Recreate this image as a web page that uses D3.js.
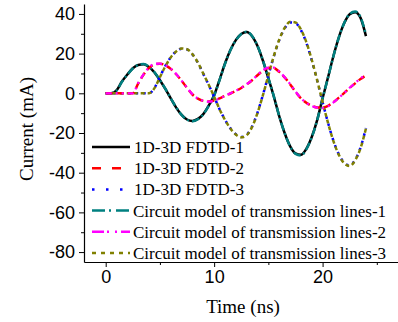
<!DOCTYPE html>
<html>
<head>
<meta charset="utf-8">
<script src="https://cdn.jsdelivr.net/npm/d3@7"></script>
<style>
  body { margin: 0; background: #fff; }
  svg { display: block; }
  .tick-label { font-family: "Liberation Sans", Arial, sans-serif; font-size: 18px; }
  .title { font-family: "Liberation Serif", "Times New Roman", serif; font-size: 19px; }
  .legend-text { font-family: "Liberation Serif", "Times New Roman", serif; font-size: 17px; }
</style>
</head>
<body>
<div id="chart"></div>
<script>
// time samples (ns)
const time = d3.range(0, 24.01, 0.5);

const fdtd1 = [0, 0, 1.5, 6, 9.5, 12.6, 14.3, 14.7, 13.2, 10.5, 6.6, 2.2, -2.6, -7.2, -10.9, -13.2, -13.9,
  -12.9, -10.5, -6.2, -1, 6.8, 15, 21.8, 26.8, 29.9, 30.9, 28.8, 23.8, 16.4, 7.6, -1.5, -11.5, -20, -26.6,
  -30.3, -31, -28, -22, -13.5, -2.5, 8, 18.8, 28.2, 35.4, 39.8, 40.9, 38, 28.8];
const fdtd2 = [0, 0, 0, 0, 0, 0, 5, 9.5, 12.8, 14.6, 14.9, 14.1, 12.3, 9.6, 6.3, 2.7, -0.6, -2.7, -3.8,
  -4.1, -3.6, -2.6, -1.3, -0.1, 1.2, 2.7, 4.5, 6.6, 9.1, 11.4, 12.7, 12.7, 10.8, 8, 4.6, 0.8, -2.5, -4.8,
  -6.3, -7.1, -7.2, -6.3, -4.5, -2.2, 0.2, 2.7, 5, 7.2, 9];
const fdtd3 = [0, 0, 0, 0, 0, 0, 0, 0, 0, 2.8, 8.3, 13.8, 18.2, 21.1, 22.5, 22.1, 19.6, 15.4, 9.8, 4.2,
  -1.8, -8, -13.3, -17.6, -20.6, -22, -20.9, -16.7, -9.7, -0.8, 9, 18.6, 26.8, 32.7, 35.7, 35.4, 31.9,
  25.5, 16.7, 6.5, -4.4, -14.8, -23.9, -30.8, -35, -36.3, -33.5, -27.3, -17.5];
const circuit1 = [0, 0, 1.4, 5.8, 9.4, 12.5, 14.3, 14.8, 13.3, 10.6, 6.7, 2.3, -2.5, -7.1, -10.9, -13.3,
  -14.1, -13.1, -10.6, -6.3, -1.1, 6.6, 14.8, 21.7, 26.7, 29.9, 31, 28.9, 23.9, 16.5, 7.7, -1.4, -11.4,
  -20, -26.7, -30.5, -31.3, -28.2, -22.2, -13.6, -2.6, 7.9, 18.7, 28.2, 35.5, 40, 41.2, 38.3, 29.5];
const circuit2 = [0, 0, 0, 0, 0, 0, 5.2, 9.7, 13, 14.8, 15, 14.2, 12.4, 9.7, 6.4, 2.8, -0.5, -2.7, -3.8,
  -4.2, -3.7, -2.6, -1.3, 0, 1.3, 2.8, 4.6, 6.7, 9.2, 11.6, 12.9, 12.9, 11, 8.1, 4.7, 0.9, -2.4, -4.8,
  -6.4, -7.2, -7.4, -6.5, -4.6, -2.3, 0.2, 2.8, 5.2, 7.5, 9.3];
const circuit3 = [0, 0, 0, 0, 0, 0, 0, 0, 0, 2.6, 8.1, 13.6, 18.1, 21.1, 22.6, 22.2, 19.7, 15.5, 9.9, 4.3,
  -1.7, -8, -13.4, -17.7, -20.8, -22.2, -21.1, -16.9, -9.9, -0.9, 9, 18.7, 27, 32.9, 36, 35.7, 32.2,
  25.8, 16.9, 6.6, -4.4, -14.9, -24.1, -31, -35.3, -36.6, -33.8, -27.6, -17.7];

const seriesNames = [
  "1D-3D FDTD-1", "1D-3D FDTD-2", "1D-3D FDTD-3",
  "Circuit model of transmission lines-1",
  "Circuit model of transmission lines-2",
  "Circuit model of transmission lines-3"
];
const seriesValues = [fdtd1, fdtd2, fdtd3, circuit1, circuit2, circuit3];
const seriesColors = ["#000000", "#ff0000", "#0000ff", "#008080", "#ff00ff", "#808000"];
const curveDash = [null, "7,4", "2.5,5", "8,3,2,3", "6,4,2,4,2,4", "4,3"];
const curveWidth = [2.5, 2.5, 2.5, 2.5, 2.3, 2.5];
const legendDash = [null, "9,11", "2.5,11.5", "13,4,2,5", "12,3,2,6,2,4", "4,5"];

const yMajor = [-80, -60, -40, -20, 0, 20, 40];
const yMinor = [-70, -50, -30, -10, 10, 30];
const xMajor = [0, 10, 20];
const xMinor = [5, 15, 25];

const width = 398, height = 322;

const svg = d3.select("#chart").append("svg")
  .attr("width", width)
  .attr("height", height);

const x = d3.scaleLinear().domain([-2, 27]).range([84, 398.5]);
const y = d3.scaleLinear().domain([-85, 45]).range([262, 4]);

// axes
const xAxisG = svg.append("g").attr("transform", `translate(0,${y(-85)})`);
xAxisG.call(d3.axisBottom(x).tickValues(xMajor).tickSize(5).tickSizeOuter(0).tickPadding(3).tickFormat(d => d));
xAxisG.append("g").call(d3.axisBottom(x).tickValues(xMinor).tickSize(3).tickSizeOuter(0).tickFormat(""))
  .select(".domain").remove();

const yAxisG = svg.append("g").attr("transform", `translate(${x(-2)},0)`);
yAxisG.call(d3.axisLeft(y).tickValues(yMajor).tickSize(5).tickSizeOuter(0).tickPadding(4).tickFormat(d => d));
yAxisG.append("g").call(d3.axisLeft(y).tickValues(yMinor).tickSize(3).tickSizeOuter(0).tickFormat(""))
  .select(".domain").remove();

svg.selectAll(".domain").attr("stroke", "#000").attr("stroke-width", 1.2);
svg.selectAll(".tick line").attr("stroke", "#000").attr("stroke-width", 1);
svg.selectAll(".tick text")
  .attr("class", "tick-label")
  .attr("fill", "#000")
  .attr("font-size", null)
  .attr("font-family", null);

// axis titles
svg.append("text")
  .attr("class", "title")
  .attr("x", 243)
  .attr("y", 313)
  .attr("text-anchor", "middle")
  .text("Time (ns)");

svg.append("text")
  .attr("class", "title")
  .attr("transform", "translate(33,129) rotate(-90)")
  .attr("text-anchor", "middle")
  .text("Current (mA)");

// curves
const line = d3.line()
  .x((d, i) => x(time[i]))
  .y(d => y(d))
  .curve(d3.curveMonotoneX);

const drawOrder = [0, 3, 2, 5, 1, 4];
drawOrder.forEach(k => {
  svg.append("path")
    .datum(seriesValues[k])
    .attr("fill", "none")
    .attr("stroke", seriesColors[k])
    .attr("stroke-width", curveWidth[k])
    .attr("stroke-dasharray", curveDash[k])
    .attr("d", line);
});

// legend
const legend = svg.append("g").attr("transform", "translate(92,147)");
const rowH = 21.2;
seriesNames.forEach((name, i) => {
  const row = legend.append("g").attr("transform", `translate(0,${i * rowH})`);
  row.append("line")
    .attr("x1", 0).attr("x2", 38)
    .attr("y1", 0).attr("y2", 0)
    .attr("stroke", seriesColors[i])
    .attr("stroke-width", 2.5)
    .attr("stroke-dasharray", legendDash[i]);
  row.append("text")
    .attr("class", "legend-text")
    .attr("x", i < 3 ? 42 : 41)
    .attr("y", 6)
    .text(name);
});
</script>
</body>
</html>
